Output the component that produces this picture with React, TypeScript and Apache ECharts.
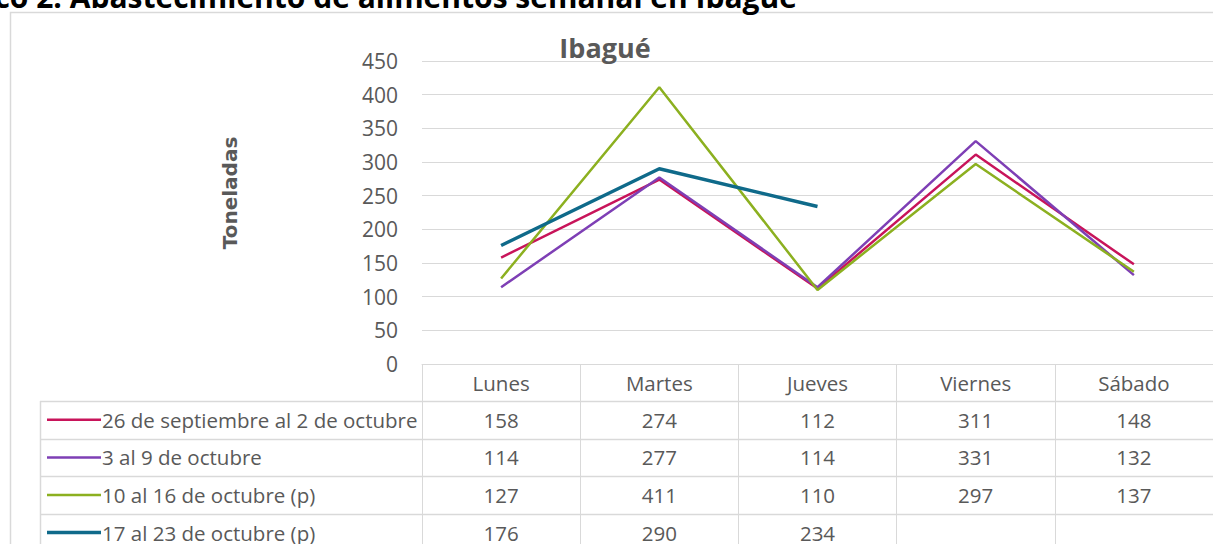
import React, { useEffect, useRef } from "react";
import * as echarts from "echarts";

const categories = ["Lunes", "Martes", "Jueves", "Viernes", "Sábado"];
const seriesNames = [
  "26 de septiembre al 2 de octubre",
  "3 al 9 de octubre",
  "10 al 16 de octubre (p)",
  "17 al 23 de octubre (p)",
];
const week1 = [158, 274, 112, 311, 148];
const week2 = [114, 277, 114, 331, 132];
const week3 = [127, 411, 110, 297, 137];
const week4: (number | null)[] = [176, 290, 234, null, null];
const seriesValues = [week1, week2, week3, week4];
const seriesColors = ["#c8145a", "#7e3fb5", "#8cb020", "#0f6a8a"];
const seriesWidths = [2.5, 2.5, 2.5, 3.5];
const yMin = 0;
const yMax = 450;
const yInterval = 50;

const mainTitle = "Gráfico 2. Abastecimiento de alimentos semanal en Ibagué";
const chartTitle = "Ibagué";
const yName = "Toneladas";

const FONT = "'Open Sans', 'Noto Sans', sans-serif";
const GRAY = "#595959";
const GRID = "#d9d9d9";

export default function App() {
  const ref = useRef<HTMLDivElement>(null);
  useEffect(() => {
    if (!ref.current) return;
    document.body.style.overflow = "hidden";
    const chart = echarts.init(ref.current, null, { renderer: "svg" });
    const gridTop = 61;
    const gridBottomY = 364;
    chart.setOption({
      animation: false,
      grid: { left: 422, top: gridTop, width: 795, height: gridBottomY - gridTop },
      xAxis: {
        type: "category",
        data: categories,
        boundaryGap: true,
        axisLine: { show: true, lineStyle: { color: GRID, width: 1 } },
        axisTick: { show: true, length: 200, lineStyle: { color: GRID, width: 1 } },
        axisLabel: { color: GRAY, fontSize: 20.5, fontFamily: FONT, margin: 8 },
      },
      yAxis: {
        type: "value",
        min: yMin,
        max: yMax,
        interval: yInterval,
        axisLine: { show: false },
        axisTick: { show: false },
        axisLabel: { color: GRAY, fontSize: 21, fontFamily: FONT, margin: 24 },
        splitLine: { lineStyle: { color: GRID, width: 1 } },
      },
      series: seriesValues.map((vals, i) => ({
        name: seriesNames[i],
        type: "line",
        data: vals,
        symbol: "none",
        connectNulls: false,
        lineStyle: { color: seriesColors[i], width: seriesWidths[i] },
        itemStyle: { color: seriesColors[i] },
      })),
    });

    const centers = categories.map((_, i) => chart.convertToPixel({ xAxisIndex: 0 }, i) as number);
    const rowTop = 401;
    const rowH = 37.6;
    const tableLeft = 40;
    const tableRight = 1213;
    const g: any[] = [];
    g.push({
      type: "rect",
      shape: { x: 10.5, y: 12.5, width: 1400, height: 700 },
      style: { fill: "none", stroke: GRID, lineWidth: 1.5 },
      silent: true,
    });
    g.push({
      type: "text",
      x: 797,
      y: -4,
      style: {
        text: mainTitle,
        fill: "#000",
        font: `bold 30px ${FONT}`,
        align: "right",
        verticalAlign: "middle",
      },
    });
    g.push({
      type: "text",
      x: 605,
      y: 47,
      style: {
        text: chartTitle,
        fill: GRAY,
        font: `bold 27px ${FONT}`,
        align: "center",
        verticalAlign: "middle",
      },
    });
    g.push({
      type: "text",
      x: 230,
      y: 193,
      rotation: Math.PI / 2,
      style: {
        text: yName,
        fill: GRAY,
        font: `bold 20px 'DejaVu Sans', sans-serif`,
        align: "center",
        verticalAlign: "middle",
      },
    });
    for (let r = 0; r <= seriesNames.length; r++) {
      const y = Math.round(rowTop + r * rowH) + 0.5;
      g.push({
        type: "line",
        shape: { x1: tableLeft, y1: y, x2: tableRight, y2: y },
        style: { stroke: GRID, lineWidth: 1.5 },
      });
    }
    g.push({
      type: "line",
      shape: { x1: tableLeft + 0.5, y1: rowTop, x2: tableLeft + 0.5, y2: 560 },
      style: { stroke: GRID, lineWidth: 1.5 },
    });
    seriesNames.forEach((name, r) => {
      const cy = rowTop + r * rowH + rowH / 2;
      g.push({
        type: "line",
        shape: { x1: 47, y1: cy, x2: 101, y2: cy },
        style: { stroke: seriesColors[r], lineWidth: seriesWidths[r] },
      });
      g.push({
        type: "text",
        x: 102,
        y: cy,
        style: { text: name, fill: GRAY, font: `20.5px ${FONT}`, align: "left", verticalAlign: "middle" },
      });
      seriesValues[r].forEach((v, c) => {
        if (v === null || v === undefined) return;
        g.push({
          type: "text",
          x: centers[c],
          y: cy,
          style: { text: String(v), fill: GRAY, font: `20.5px ${FONT}`, align: "center", verticalAlign: "middle" },
        });
      });
    });
    chart.setOption({ graphic: g });
    return () => chart.dispose();
  }, []);
  return (
    <div
      ref={ref}
      style={{ position: "fixed", left: 0, top: 0, width: 1213, height: 544, background: "#fff" }}
    />
  );
}
